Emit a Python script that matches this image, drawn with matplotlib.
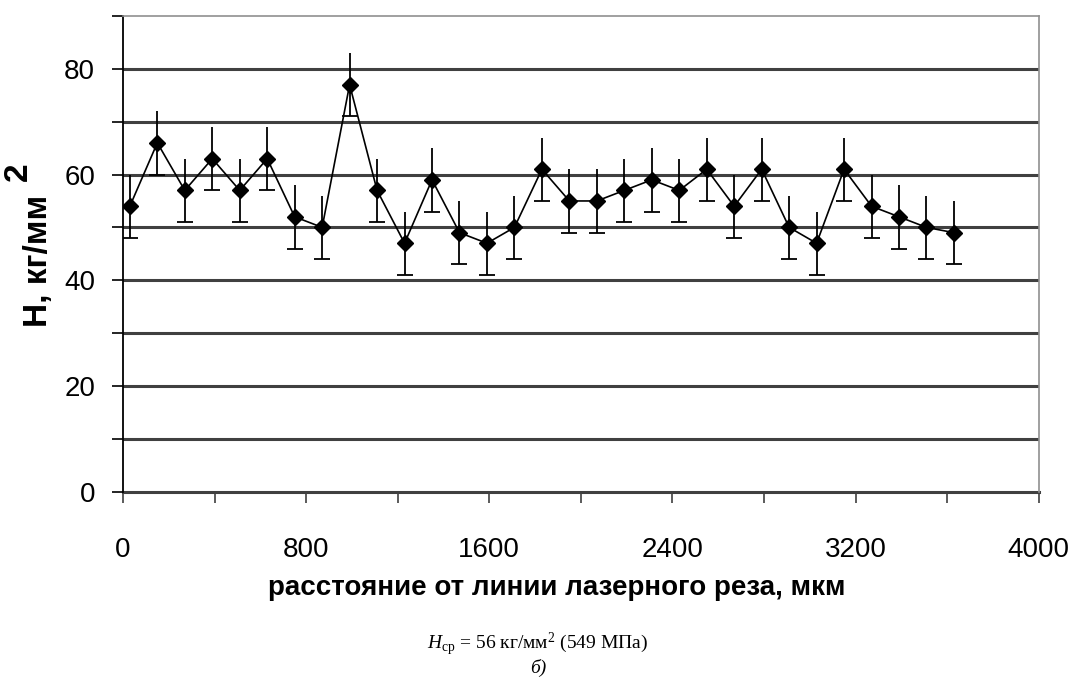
# Твёрдость по расстоянию от линии лазерного реза (график б)
import numpy as np
import matplotlib.pyplot as plt
from matplotlib.ticker import MultipleLocator

# расстояние от линии реза, мкм
x_mkm = [30, 150, 270, 390, 510, 630, 750, 870, 990, 1110, 1230, 1350, 1470,
         1590, 1710, 1830, 1950, 2070, 2190, 2310, 2430, 2550, 2670, 2790,
         2910, 3030, 3150, 3270, 3390, 3510, 3630]
# твёрдость H, кг/мм2
h_val = [54, 66, 57, 63, 57, 63, 52, 50, 77, 57, 47, 59, 49,
         47, 50, 61, 55, 55, 57, 59, 57, 61, 54, 61,
         50, 47, 61, 54, 52, 50, 49]
# погрешность
h_err = 6

x_ticks = [0, 800, 1600, 2400, 3200, 4000]
y_ticks = [0, 20, 40, 60, 80]

plt.rcParams['font.family'] = ['Liberation Sans', 'DejaVu Sans']
# для подписи снизу - шрифт как Times
plt.rcParams['mathtext.fontset'] = 'custom'
plt.rcParams['mathtext.rm'] = 'Liberation Serif'
plt.rcParams['mathtext.it'] = 'Liberation Serif:italic'

fig = plt.figure(figsize=(10.76, 6.8), dpi=100)
ax = fig.add_axes([0.1143, 0.277, 0.851, 0.6995])

ax.set_xlim(0, 4000)
ax.set_ylim(0, 90)

# горизонтальная сетка через 10
for yy in range(10, 90, 10):
    ax.axhline(yy, color='#404040', lw=2.2, zorder=1)
ax.axhline(0, color='#404040', lw=2.2, zorder=1, clip_on=False)

x = np.array(x_mkm)
y = np.array(h_val)

ax.errorbar(x, y, yerr=h_err, fmt='none', ecolor='black', elinewidth=1.3, capsize=0, zorder=3)
ax.plot(x, y - h_err, linestyle='none', marker='_', markersize=12, markeredgewidth=1.3,
        color='black', zorder=3)
ax.plot(x, y, color='black', lw=1.2, marker='D', markersize=8, zorder=4)

# оси
ax.spines['left'].set_color('black')
ax.spines['left'].set_linewidth(1.3)
ax.spines['bottom'].set_visible(False)
for s in ['top', 'right']:
    ax.spines[s].set_color('#909090')
    ax.spines[s].set_linewidth(1.2)

ax.set_xticks(x_ticks)
ax.xaxis.set_minor_locator(MultipleLocator(400))
ax.set_yticks(y_ticks)
ax.yaxis.set_minor_locator(MultipleLocator(10))
ax.tick_params(axis='x', which='both', direction='out', length=8, width=1.2, color='#404040',
               pad=25, labelsize=20)
ax.tick_params(axis='y', which='both', direction='out', length=8, width=1.2, color='black',
               pad=12, labelsize=20)

ax.set_xlabel('расстояние от линии лазерного реза, мкм', fontsize=20, fontweight='bold')
ax.xaxis.set_label_coords(0.474, -0.175)

# подпись оси Y с отдельной двойкой
fig.text(0.036, 0.617, 'Н, кг/мм', rotation=90, fontsize=24, fontweight='bold',
         ha='center', va='center')
fig.text(0.017, 0.747, '2', rotation=90, fontsize=24, fontweight='bold',
         ha='center', va='center')

fig.text(0.5, 0.052, r'$\mathit{H}_{\mathrm{ср}}$ = 56 кг/мм$^{\mathrm{2}}$ (549 МПа)', fontsize=14,
         family=['Liberation Serif', 'DejaVu Serif'], ha='center', va='center')
fig.text(0.5, 0.018, 'б)', fontsize=14, style='italic',
         family=['Liberation Serif', 'DejaVu Serif'], ha='center', va='center')

fig.savefig('out.png', dpi=100)
